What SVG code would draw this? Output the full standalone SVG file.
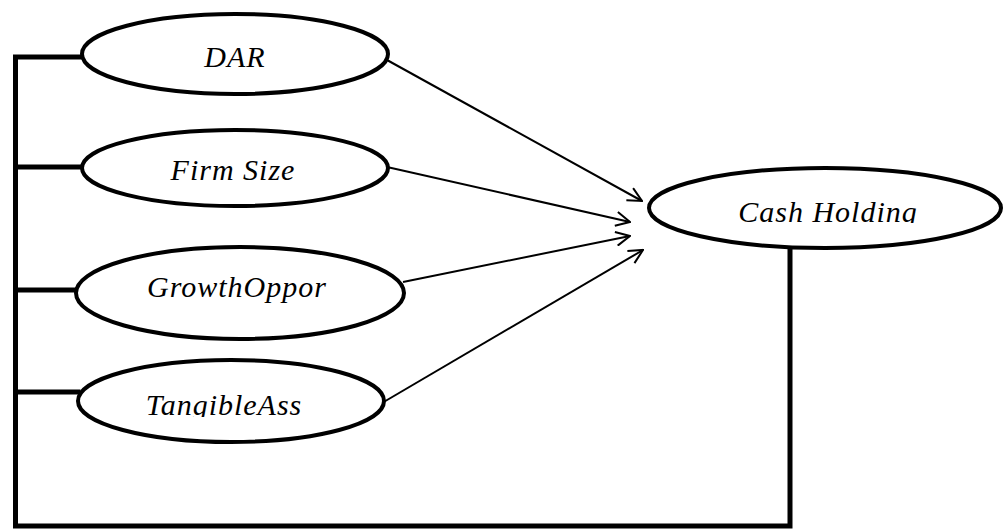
<svg xmlns="http://www.w3.org/2000/svg" width="1003" height="529" viewBox="0 0 1003 529">
<defs>
<style>
.node ellipse{fill:#fff;stroke:#000;stroke-width:4}
.node text{font-family:"Liberation Serif","Times New Roman",serif;font-style:italic;font-size:30px;letter-spacing:1px;fill:#000;text-anchor:middle}
.bracket{fill:none;stroke:#000;stroke-width:5;stroke-linecap:square}
.arrow{fill:none;stroke:#000;stroke-width:2}
</style>
<marker id="open" viewBox="0 0 16 16" refX="15" refY="8" markerWidth="16" markerHeight="16" markerUnits="userSpaceOnUse" orient="auto">
<path d="M1,1 L15,8 L1,15" fill="none" stroke="#000" stroke-width="2"/>
</marker>
<clipPath id="clipT"><rect x="0" y="0" width="1003" height="417"/></clipPath>
<clipPath id="clipC"><rect x="0" y="0" width="1003" height="223"/></clipPath>
</defs>
<rect width="1003" height="529" fill="#fff"/>
<g id="connectors">
<path class="bracket" d="M82,57 H15.5 V526 H790 V248"/>
<path class="bracket" d="M15.5,167 H82"/>
<path class="bracket" d="M15.5,290 H76"/>
<path class="bracket" d="M15.5,392 H78"/>
<line class="arrow" x1="387" y1="60" x2="642" y2="201" marker-end="url(#open)"/>
<line class="arrow" x1="387" y1="167" x2="630" y2="222" marker-end="url(#open)"/>
<line class="arrow" x1="403" y1="282" x2="630" y2="236" marker-end="url(#open)"/>
<line class="arrow" x1="382" y1="403" x2="643" y2="250" marker-end="url(#open)"/>
</g>
<g id="dar" class="node">
<ellipse cx="235" cy="54" rx="153" ry="40"/>
<text x="235" y="67">DAR</text>
</g>
<g id="firmsize" class="node">
<ellipse cx="235" cy="168" rx="153" ry="38"/>
<text x="233" y="180">Firm Size</text>
</g>
<g id="growthoppor" class="node">
<ellipse cx="240" cy="293" rx="164" ry="46"/>
<text x="237" y="297">GrowthOppor</text>
</g>
<g id="tangibleass" class="node">
<ellipse cx="231" cy="401" rx="153" ry="41"/>
<text x="224" y="415" clip-path="url(#clipT)">TangibleAss</text>
</g>
<g id="cashholding" class="node">
<ellipse cx="825" cy="208" rx="176" ry="40"/>
<text x="828" y="222" clip-path="url(#clipC)">Cash Holding</text>
</g>
</svg>
